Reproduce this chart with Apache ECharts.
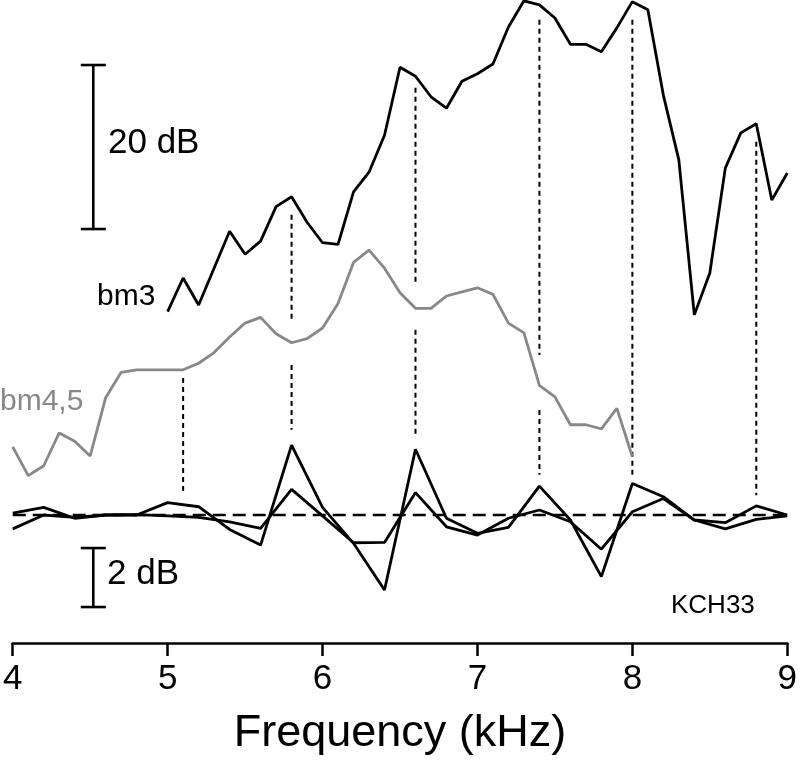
<!DOCTYPE html>
<html>
<head>
<meta charset="utf-8">
<script src="https://cdn.jsdelivr.net/npm/echarts@6/dist/echarts.min.js"></script>
<style>
html,body{margin:0;padding:0;background:#fff;}
#chart{width:800px;height:764px;}
</style>
</head>
<body>
<div id="chart"></div>
<script>
// ---- Data (top traces in dB, relative scale: 20 dB bar) ----
const bm3Freq = [5.0,5.1,5.2,5.4,5.5,5.6,5.7,5.8,5.9,6.0,6.1,6.2,6.3,6.4,6.5,6.6,6.7,6.8,6.9,7.0,7.1,7.2,7.3,7.4,7.5,7.6,7.7,7.8,7.9,8.0,8.1,8.2,8.3,8.4,8.5,8.6,8.7,8.8,8.9,9.0];
const bm3 = [22.0,26.1,22.8,31.8,29.0,30.6,34.8,36.0,32.9,30.4,30.2,36.6,39.0,43.5,51.8,50.7,48.2,46.8,50.1,51.0,52.2,56.7,59.9,59.4,57.8,54.6,54.6,53.7,56.6,59.8,58.8,48.4,40.5,21.6,26.7,39.5,43.8,44.9,35.6,38.9];

const bm45Freq = [4.0,4.1,4.2,4.3,4.4,4.5,4.6,4.7,4.8,4.9,5.0,5.1,5.2,5.3,5.4,5.5,5.6,5.7,5.8,5.9,6.0,6.1,6.2,6.3,6.4,6.5,6.6,6.7,6.8,6.9,7.0,7.1,7.2,7.3,7.4,7.5,7.6,7.7,7.8,7.9,8.0];
const bm45 = [5.5,2.0,3.2,7.2,6.2,4.4,11.5,14.6,14.9,14.9,14.9,14.9,15.7,17.0,18.9,20.6,21.3,19.3,18.2,18.7,20.0,23.0,28.0,29.5,27.3,24.3,22.4,22.4,23.9,24.4,24.9,24.1,20.6,19.4,13.0,11.6,8.2,8.2,7.7,10.2,4.3];

// ---- Bottom traces in dB (2 dB bar) ----
const diffFreq = [4.0,4.2,4.4,4.6,4.8,5.0,5.2,5.4,5.6,5.8,6.0,6.2,6.4,6.6,6.8,7.0,7.2,7.4,7.6,7.8,8.0,8.2,8.4,8.6,8.8,9.0];
const diffA = [0.06,0.26,-0.11,0,0,0.42,0.28,-0.49,-1.02,2.37,0.26,-0.96,-2.54,2.23,-0.11,-0.62,-0.42,0.98,-0.17,-2.09,1.07,0.62,-0.17,-0.26,0.31,0];
const diffB = [-0.47,0,-0.08,0,0.01,-0.03,-0.08,-0.23,-0.45,0.87,-0.03,-0.94,-0.93,0.76,-0.40,-0.68,-0.11,0.17,-0.23,-1.16,0.11,0.56,-0.17,-0.47,-0.15,-0.03];

// ---- Vertical dotted markers: frequency, and segments [from, to] in top-trace dB ----
const markerFreq = [5.1, 5.8, 6.6, 7.4, 8.0, 8.8];
const markerSegs = [
  [[13.9,-0.12]],
  [[33.8,21.0],[15.5,7.6]],
  [[49.3,25.5],[19.8,7.0]],
  [[57.6,16.7],[10.0,2.1]],
  [[57.6,2.1]],
  [[42.7,-0.4]]
];

// ---- Scale bars ----
const bar20 = [32.07, 52.07];   // top-trace dB
const bar2 = [-3.12, -1.12];    // bottom-trace dB
const barFreq = 4.52;

const xTicks = [4,5,6,7,8,9];

const FONT = '"Liberation Sans", Arial, sans-serif';
const chart = echarts.init(document.getElementById('chart'));

const zip = (xs, ys) => xs.map((x, i) => [x, ys[i]]);
const LW = 2.8;

const series = [];
series.push({type:'line', name:'bm3', data: zip(bm3Freq, bm3), yAxisIndex:0, symbol:'none', clip:false,
  lineStyle:{color:'#000', width:LW}, z:5});
series.push({type:'line', name:'bm4,5', data: zip(bm45Freq, bm45), yAxisIndex:0, symbol:'none', clip:false,
  lineStyle:{color:'#888', width:LW}, z:4});
series.push({type:'line', name:'base', data: [[4,0],[9,0]], yAxisIndex:1, symbol:'none', clip:false,
  lineStyle:{color:'#000', width:2.3, type:[13,7]}, z:3});
series.push({type:'line', name:'diffA', data: zip(diffFreq, diffA), yAxisIndex:1, symbol:'none', clip:false,
  lineStyle:{color:'#000', width:LW}, z:5});
series.push({type:'line', name:'diffB', data: zip(diffFreq, diffB), yAxisIndex:1, symbol:'none', clip:false,
  lineStyle:{color:'#000', width:LW}, z:5});
markerFreq.forEach((f, i) => {
  markerSegs[i].forEach(seg => {
    series.push({type:'line', data: [[f, seg[0]],[f, seg[1]]], yAxisIndex:0, symbol:'none', clip:false,
      lineStyle:{color:'#000', width:2, type:[5,4]}, z:2, silent:true});
  });
});

chart.setOption({
  animation:false,
  backgroundColor:'#fff',
  grid:{left:10, right:8, top:0, bottom:121, containLabel:false},
  xAxis:{type:'value', min:4, max:9, interval:1,
    axisLine:{show:true, onZero:false, lineStyle:{color:'#000', width:2.5}},
    axisTick:{show:true, length:13, lineStyle:{color:'#000', width:2.5}},
    axisLabel:{fontFamily:FONT, fontSize:35, color:'#000', margin:19,
      formatter: v => xTicks.includes(v) ? String(v) : ''},
    splitLine:{show:false},
    name:'Frequency (kHz)', nameLocation:'middle', nameGap:68,
    nameTextStyle:{fontFamily:FONT, fontSize:45, color:'#000'}
  },
  yAxis:[
    {type:'value', min:-18.4146, max:60, show:false, splitLine:{show:false}},
    {type:'value', min:-4.339, max:17.458, show:false, splitLine:{show:false}}
  ],
  series: series
});

// scale bars & labels via library coordinate conversion
const p20a = chart.convertToPixel({xAxisIndex:0, yAxisIndex:0}, [barFreq, bar20[0]]);
const p20b = chart.convertToPixel({xAxisIndex:0, yAxisIndex:0}, [barFreq, bar20[1]]);
const p2a = chart.convertToPixel({xAxisIndex:0, yAxisIndex:1}, [barFreq, bar2[0]]);
const p2b = chart.convertToPixel({xAxisIndex:0, yAxisIndex:1}, [barFreq, bar2[1]]);
const cap = 12.5;
const ls = {stroke:'#000', lineWidth:2.6};
function bar(a, b) {
  return [
    {type:'line', shape:{x1:a[0], y1:a[1], x2:b[0], y2:b[1]}, style:ls},
    {type:'line', shape:{x1:a[0]-cap, y1:a[1], x2:a[0]+cap, y2:a[1]}, style:ls},
    {type:'line', shape:{x1:b[0]-cap, y1:b[1], x2:b[0]+cap, y2:b[1]}, style:ls}
  ];
}
chart.setOption({
  graphic:[].concat(bar(p20a, p20b), bar(p2a, p2b), [
    {type:'text', left:108, top:(p20a[1]+p20b[1])/2 - 21, style:{text:'20 dB', font:'35px ' + FONT, fill:'#000'}},
    {type:'text', left:107, top:(p2a[1]+p2b[1])/2 - 21, style:{text:'2 dB', font:'35px ' + FONT, fill:'#000'}},
    {type:'text', left:97, top:282, style:{text:'bm3', font:'30px ' + FONT, fill:'#000'}},
    {type:'text', left:0, top:387, style:{text:'bm4,5', font:'30px ' + FONT, fill:'#888'}},
    {type:'text', left:671, top:593, style:{text:'KCH33', font:'26px ' + FONT, fill:'#000'}}
  ])
});
</script>
</body>
</html>
